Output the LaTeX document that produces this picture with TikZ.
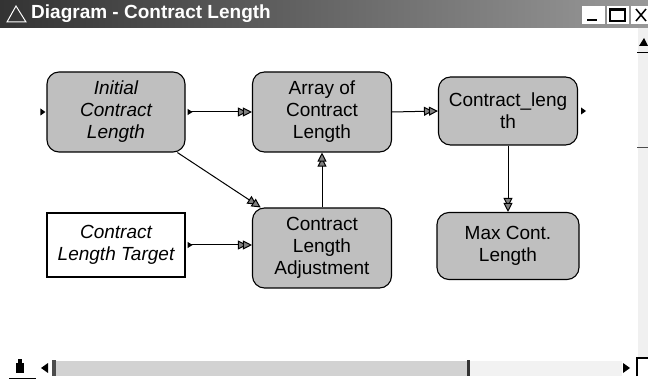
\documentclass[tikz,border=0pt]{standalone}
\usepackage{fontspec}
\setmainfont{Liberation Sans}
\usetikzlibrary{arrows.meta,calc}

\tikzset{
  blk/.style={draw=black, line width=1.1pt, rounded corners=12pt, fill=gray!50,
    align=center, inner sep=0pt, font=\fontsize{19}{22}\selectfont},
  inbox/.style={draw=black, line width=1.1pt, fill=white,
    align=center, inner sep=0pt, font=\fontsize{19}{22}\selectfont\itshape},
  head/.tip={Triangle[length=9pt,width=9pt,fill=black!50]},
  link/.style={line width=1pt, -{head[sep=-4pt]head}},
  taillink/.style={line width=1pt,
    {Triangle[reversed,length=5pt,width=6pt]}-{head[sep=-4pt]head}},
  marker/.style={fill=black},
}

\begin{document}
\begin{tikzpicture}[x=1pt,y=-1pt]
\useasboundingbox (0,0) rectangle (648,379);
\fill[white] (0,0) rectangle (648,379);

% window title bar
\shade[left color=black!80, right color=black!40] (0,0) rectangle (648,28);
\draw[white, line width=1pt] (7,22) -- (16,6) -- (26,22) -- cycle;
\node[anchor=west, text=white, font=\fontsize{19}{20}\selectfont\bfseries, inner sep=0pt]
  (title) at (31,14) {Diagram - Contract Length};
% window buttons
\fill[white] (582,6) rectangle (605,24);
\draw[black, line width=2pt] (587,20) -- (597,20);
\fill[white] (607,6) rectangle (629,24);
\draw[black, line width=1.3pt] (610,9) rectangle (625,21);
\draw[black, line width=2.2pt] (611,10) -- (625,10);
\fill[white] (631,6) rectangle (648,24);
\draw[black, line width=1.5pt] (636,9) -- (646,21) (646,9) -- (636,21);

% right scroll bar remnant
\fill[gray!12] (638,28) rectangle (648,358);
\fill[black] (639,46) -- (644,38) -- (648,46) -- cycle;
\draw[black, line width=0.8pt] (637,52) -- (648,52);
\draw[black!70, line width=1pt] (637,148) -- (648,148);

% bottom scroll bar
\fill[black] (16,363) rectangle (24,373);
\fill[black] (18,359) rectangle (22,363);
\draw[black, line width=0.8pt] (9,378) -- (36,378);
\fill[black] (41,368) -- (48,363) -- (48,373) -- cycle;
\fill[black!70] (52,360) rectangle (56,376);
\fill[gray!35] (56,361) rectangle (467,376);
\fill[black!80] (467,360) rectangle (470,376);
\fill[gray!10] (470,361) rectangle (622,376);
\fill[black] (630,368) -- (623,363) -- (623,373) -- cycle;
\draw[black, line width=1.2pt] (637,376) -- (637,358) -- (648,358);

% model nodes
\node[blk, minimum width=138pt, minimum height=80pt] (init) at (116,112)
  {\itshape Initial\\\itshape Contract\\\itshape Length};
\node[blk, minimum width=139pt, minimum height=80pt] (arr) at (322,112)
  {Array of\\Contract\\Length};
\node[blk, minimum width=139pt, minimum height=68pt] (cl) at (508,111)
  {Contract\_leng\\th};
\node[inbox, minimum width=138pt, minimum height=64pt] (tgt) at (116,245)
  {Contract\\Length Target};
\node[blk, minimum width=139pt, minimum height=80pt] (adj) at (322,248)
  {Contract\\Length\\Adjustment};
\node[blk, minimum width=142pt, minimum height=67pt] (mx) at (508,246)
  {Max Cont.\\Length};

% input / output markers
\fill[marker] ($(init.west)+(-6,-3.5)$) -- ++(5,3.5) -- ++(-5,3.5) -- cycle;
\fill[marker] ($(cl.east)+(3,-3.5)$) -- ++(5,3.5) -- ++(-5,3.5) -- cycle;

% connectors
\draw[taillink] ([xshift=2pt]init.east) -- (arr.west);
\draw[link] (arr.east) -- (cl.west);
\draw[link] (init) -- (adj);
\draw[taillink] ([xshift=2pt]tgt.east) -- (adj.west |- tgt.east);
\draw[link] (adj.north) -- (arr.south);
\draw[link] (cl.south) -- (mx.north);
\end{tikzpicture}
\end{document}
